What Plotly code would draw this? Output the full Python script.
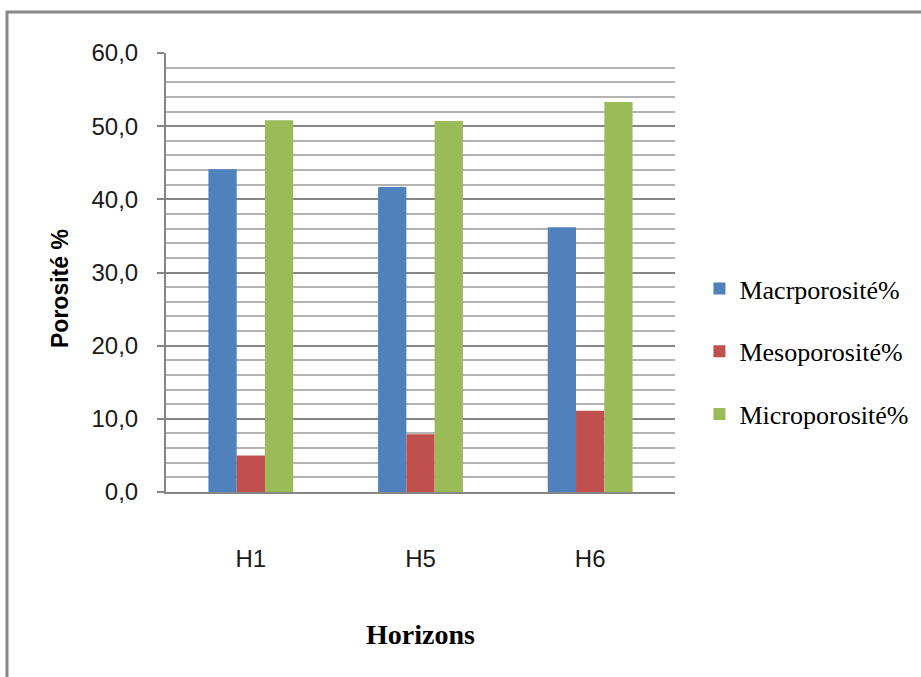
import plotly.graph_objects as go

# Porosity classes per soil horizon (%)
horizons = ["H1", "H5", "H6"]
macroporosite = [44.1, 41.7, 36.2]
mesoporosite = [5.0, 7.9, 11.1]
microporosite = [50.8, 50.7, 53.3]

series_names = ["Macrporosité%", "Mesoporosité%", "Microporosité%"]
series_values = [macroporosite, mesoporosite, microporosite]
series_colors = ["#4F81BD", "#C0504D", "#9BBB59"]

y_tick_values = [0, 10, 20, 30, 40, 50, 60]
y_tick_labels = ["0,0", "10,0", "20,0", "30,0", "40,0", "50,0", "60,0"]

fig = go.Figure()
for name, vals, col in zip(series_names, series_values, series_colors):
    fig.add_trace(go.Bar(
        x=horizons, y=vals, name=name, marker_color=col,
        marker_line_width=0, legendgroup=name,
    ))

tick_font = dict(family="Liberation Sans, Arial, sans-serif", size=24, color="#1a1a1a")

fig.update_layout(
    width=921, height=677,
    margin=dict(l=166, r=246, t=53, b=185, autoexpand=False),
    paper_bgcolor="white", plot_bgcolor="white",
    barmode="group", bargap=0.5, bargroupgap=0,
    showlegend=True,
    legend=dict(
        x=1.048, y=0.32, xanchor="left", yanchor="middle",
        font=dict(family="Liberation Serif, Times New Roman, serif", size=26, color="#000"),
        traceorder="grouped", tracegroupgap=26,
        itemwidth=30, bgcolor="rgba(0,0,0,0)",
    ),
    xaxis=dict(
        type="category",
        showline=True, linecolor="#868686", linewidth=2,
        showgrid=False, ticks="", tickfont=tick_font,
        ticklabelstandoff=44,
        title=dict(text="Horizons", standoff=54,
                   font=dict(family="Liberation Serif, Times New Roman, serif",
                             size=28, color="#000", weight="bold")),
    ),
    yaxis=dict(
        range=[0, 60],
        tickvals=y_tick_values, ticktext=y_tick_labels,
        tickfont=tick_font,
        ticks="outside", ticklen=7, tickcolor="#868686", tickwidth=2,
        ticklabelstandoff=14,
        showline=True, linecolor="#868686", linewidth=2,
        showgrid=True, gridcolor="#868686", gridwidth=2,
        minor=dict(dtick=2, showgrid=True, gridcolor="#B3B3B3", gridwidth=2),
        zeroline=False,
    ),
    annotations=[dict(
        text="<b>Porosité %</b>", textangle=-90,
        xref="paper", yref="paper",
        x=(60 - 166) / 509, y=(492 - 289) / 439,
        xanchor="center", yanchor="middle", showarrow=False,
        font=dict(family="Liberation Sans, Arial, sans-serif", size=23, color="#000"),
    )],
    shapes=[dict(
        type="rect", xref="paper", yref="paper",
        x0=(7 - 166) / 509, x1=2.0, y0=-1.0, y1=(492 - 12) / 439,
        line=dict(color="#888888", width=3), fillcolor="rgba(0,0,0,0)",
        layer="below",
    )],
)

fig.write_html("out.html")
